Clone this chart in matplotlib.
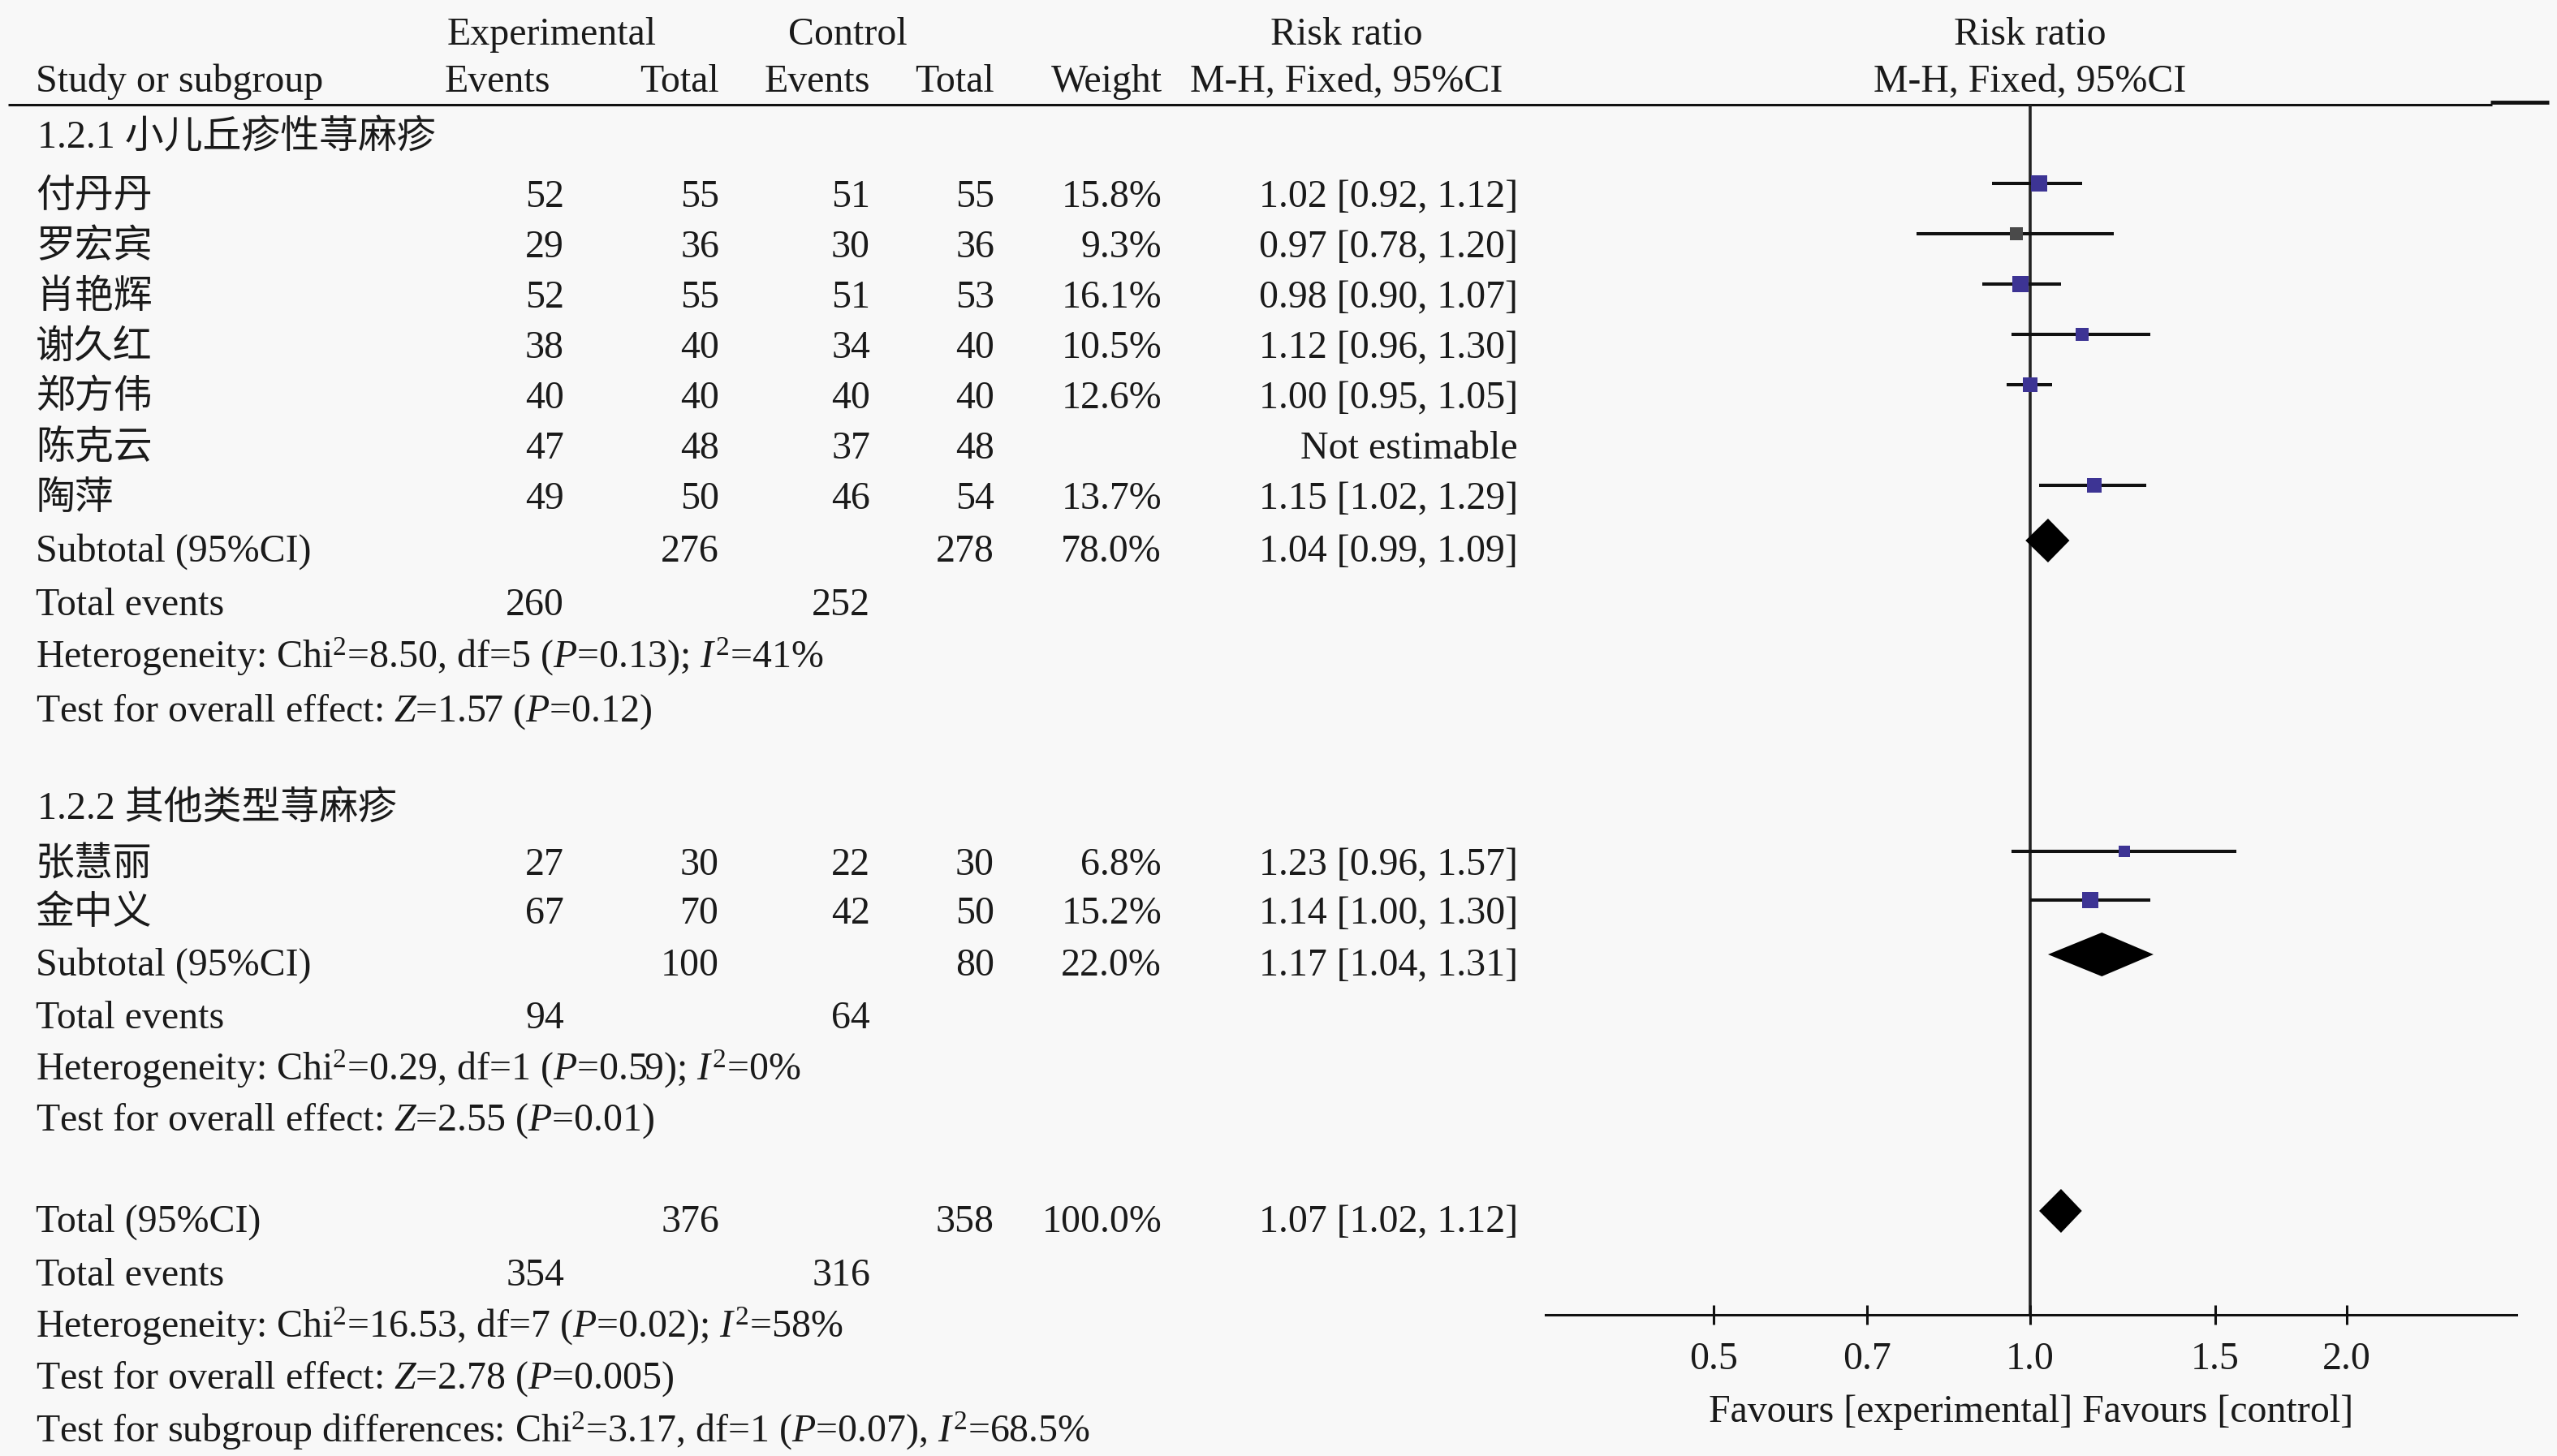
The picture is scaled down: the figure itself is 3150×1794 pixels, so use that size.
import numpy as np
import matplotlib
matplotlib.use('Agg')
import matplotlib.pyplot as plt
from matplotlib.ticker import NullLocator

plt.rcParams['font.family'] = ['Liberation Serif', 'Noto Sans CJK SC']
plt.rcParams['mathtext.fontset'] = 'custom'
plt.rcParams['mathtext.rm'] = 'Liberation Serif'
plt.rcParams['mathtext.it'] = 'Liberation Serif:italic'

# subgroup 1.2.1
g1_title = '1.2.1 小儿丘疹性荨麻疹'
g1_studies = ['付丹丹', '罗宏宾', '肖艳辉', '谢久红', '郑方伟', '陈克云', '陶萍']
g1_exp_events = [52, 29, 52, 38, 40, 47, 49]
g1_exp_total = [55, 36, 55, 40, 40, 48, 50]
g1_ctl_events = [51, 30, 51, 34, 40, 37, 46]
g1_ctl_total = [55, 36, 53, 40, 40, 48, 54]
g1_weight = [15.8, 9.3, 16.1, 10.5, 12.6, None, 13.7]
g1_rr = [1.02, 0.97, 0.98, 1.12, 1.00, None, 1.15]
g1_lo = [0.92, 0.78, 0.90, 0.96, 0.95, None, 1.02]
g1_hi = [1.12, 1.20, 1.07, 1.30, 1.05, None, 1.29]
g1_sub = [276, 278, 78.0, 1.04, 0.99, 1.09]      # exp total, ctl total, weight, rr, lo, hi
g1_events = [260, 252]
g1_het = r'Heterogeneity: Chi$^2$=8.50, df=5 ($P$=0.13); $I^2$=41%'
g1_eff = r'Test for overall effect: $Z$=1.57 ($P$=0.12)'

# subgroup 1.2.2
g2_title = '1.2.2 其他类型荨麻疹'
g2_studies = ['张慧丽', '金中义']
g2_exp_events = [27, 67]
g2_exp_total = [30, 70]
g2_ctl_events = [22, 42]
g2_ctl_total = [30, 50]
g2_weight = [6.8, 15.2]
g2_rr = [1.23, 1.14]
g2_lo = [0.96, 1.00]
g2_hi = [1.57, 1.30]
g2_sub = [100, 80, 22.0, 1.17, 1.04, 1.31]
g2_events = [94, 64]
g2_het = r'Heterogeneity: Chi$^2$=0.29, df=1 ($P$=0.59); $I^2$=0%'
g2_eff = r'Test for overall effect: $Z$=2.55 ($P$=0.01)'

# overall
tot = [376, 358, 100.0, 1.07, 1.02, 1.12]
tot_events = [354, 316]
tot_het = r'Heterogeneity: Chi$^2$=16.53, df=7 ($P$=0.02); $I^2$=58%'
tot_eff = r'Test for overall effect: $Z$=2.78 ($P$=0.005)'
sub_diff = r'Test for subgroup differences: Chi$^2$=3.17, df=1 ($P$=0.07), $I^2$=68.5%'

xticks = [0.5, 0.7, 1.0, 1.5, 2.0]
xtick_labels = ['0.5', '0.7', '1.0', '1.5', '2.0']

# layout (pixels)
W, H = 3150, 1794
FS = 34.5
TXT = '#1a1a1a'
SQ = '#3d3494'
g1_colors = [SQ, '#4a4a4a', SQ, SQ, SQ, SQ, SQ]
g2_colors = [SQ, SQ]
X_NAME, X_EE, X_ET, X_CE, X_CT, X_W, X_RR = 44, 695, 886, 1072, 1225, 1431, 1870
Y_G1 = [167, 240, 302, 364, 426, 488, 550, 612, 677, 743, 808, 874]
Y_G2 = [994, 1063, 1123, 1187, 1252, 1316, 1378]
Y_TOT = [1503, 1569, 1633, 1696, 1762]
MK = 14   # marks sit a bit above the text centre

fig = plt.figure(figsize=(W / 100, H / 100), dpi=100, facecolor='#f8f8f8')
ax = fig.add_axes([0, 0, 1, 1])
ax.set_xlim(0, W)
ax.set_ylim(H, 0)
ax.axis('off')

fa = fig.add_axes([1904 / W, 1 - 1620 / H, (3100 - 1904) / W, (1620 - 129) / H])
fa.set_xscale('log')
fa.set_xlim(np.exp(-1.06), np.exp(1.064))
fa.set_ylim(1620, 129)
fa.patch.set_alpha(0)
for s in ['top', 'left', 'right']:
    fa.spines[s].set_visible(False)
fa.spines['bottom'].set_linewidth(2.2)
fa.spines['bottom'].set_color('#111111')
fa.set_yticks([])
fa.set_xticks(xticks)
fa.set_xticklabels(xtick_labels)
fa.xaxis.set_minor_locator(NullLocator())
fa.tick_params(axis='x', direction='inout', length=17, width=2.2, pad=15,
               labelsize=FS, colors='#111111', labelcolor=TXT)
fa.axvline(1.0, color='#222222', lw=2.6, zorder=1)


def put(x, y, s, ha='left'):
    ax.text(x, y + 15, s, ha=ha, va='baseline', fontsize=FS, color=TXT)


def study_rows(ys, names, ee, et, ce, ct, w, rr, lo, hi, colors):
    for i in range(len(names)):
        y = ys[i]
        put(X_NAME, y, names[i])
        put(X_EE, y, str(ee[i]), 'right')
        put(X_ET, y, str(et[i]), 'right')
        put(X_CE, y, str(ce[i]), 'right')
        put(X_CT, y, str(ct[i]), 'right')
        if rr[i] is None:
            put(X_RR, y, 'Not estimable', 'right')
            continue
        put(X_W, y, '%.1f%%' % w[i], 'right')
        put(X_RR, y, '%.2f [%.2f, %.2f]' % (rr[i], lo[i], hi[i]), 'right')
        fa.hlines(y - MK, lo[i], hi[i], color='#111111', lw=2.9, zorder=2)
        side = 5.1 * np.sqrt(w[i]) * 0.72
        fa.scatter([rr[i]], [y - MK], s=side ** 2, marker='s', color=colors[i],
                   linewidths=0, zorder=3)


def summary_row(y, label, vals, events_y, events):
    put(X_NAME, y, label)
    put(X_ET, y, str(vals[0]), 'right')
    put(X_CT, y, str(vals[1]), 'right')
    put(X_W, y, '%.1f%%' % vals[2], 'right')
    put(X_RR, y, '%.2f [%.2f, %.2f]' % (vals[3], vals[4], vals[5]), 'right')
    yc = y - MK + 3
    fa.fill([vals[4], vals[3], vals[5], vals[3]], [yc, yc - 27, yc, yc + 27],
            color='black', lw=0, zorder=3)
    put(X_NAME, events_y, 'Total events')
    put(X_EE, events_y, str(events[0]), 'right')
    put(X_CE, events_y, str(events[1]), 'right')


# header
put(680, 40, 'Experimental', 'center')
put(1044, 40, 'Control', 'center')
put(1659, 40, 'Risk ratio', 'center')
put(2501, 40, 'Risk ratio', 'center')
put(X_NAME, 98, 'Study or subgroup')
put(548, 98, 'Events')
put(X_ET, 98, 'Total', 'right')
put(X_CE, 98, 'Events', 'right')
put(X_CT, 98, 'Total', 'right')
put(1432, 98, 'Weight', 'right')
put(1659, 98, 'M-H, Fixed, 95%CI', 'center')
put(2501, 98, 'M-H, Fixed, 95%CI', 'center')
ax.plot([10, 3070], [129, 129], color='#111111', lw=2.2, solid_capstyle='butt')
ax.plot([3068, 3140], [126, 126], color='#111111', lw=3.5, solid_capstyle='butt')

# subgroup 1.2.1
put(X_NAME + 2, Y_G1[0], g1_title)
study_rows(Y_G1[1:8], g1_studies, g1_exp_events, g1_exp_total, g1_ctl_events,
           g1_ctl_total, g1_weight, g1_rr, g1_lo, g1_hi, g1_colors)
summary_row(Y_G1[8], 'Subtotal (95%CI)', g1_sub, Y_G1[9], g1_events)
put(X_NAME, Y_G1[10], g1_het)
put(X_NAME, Y_G1[11], g1_eff)

# subgroup 1.2.2
put(X_NAME + 2, Y_G2[0], g2_title)
study_rows(Y_G2[1:3], g2_studies, g2_exp_events, g2_exp_total, g2_ctl_events,
           g2_ctl_total, g2_weight, g2_rr, g2_lo, g2_hi, g2_colors)
summary_row(Y_G2[3], 'Subtotal (95%CI)', g2_sub, Y_G2[4], g2_events)
put(X_NAME, Y_G2[5], g2_het)
put(X_NAME, Y_G2[6], g2_eff)

# overall
summary_row(Y_TOT[0], 'Total (95%CI)', tot, Y_TOT[1], tot_events)
put(X_NAME, Y_TOT[2], tot_het)
put(X_NAME, Y_TOT[3], tot_eff)
put(X_NAME, Y_TOT[4], sub_diff)

put(2502, 1737, 'Favours [experimental] Favours [control]', 'center')

fig.savefig('out.png', dpi=100, facecolor=fig.get_facecolor())
